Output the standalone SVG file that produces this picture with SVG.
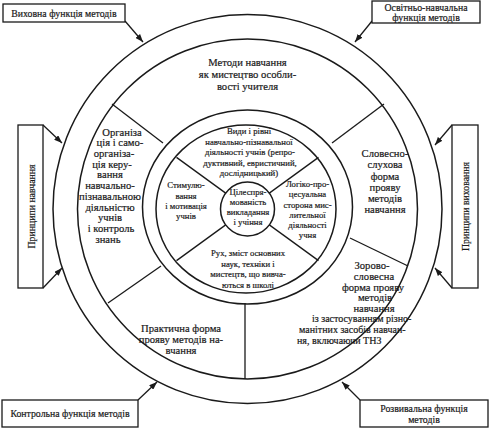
<svg xmlns="http://www.w3.org/2000/svg" width="500" height="428" viewBox="0 0 500 428">
<defs>
<style>
.c{fill:none;stroke:#1a1a1a;stroke-width:1.5}
.l{stroke:#1a1a1a;stroke-width:1.3;fill:none}
.b{fill:#fff;stroke:#1a1a1a;stroke-width:1.3}
.t{font-family:"Liberation Serif","DejaVu Serif",serif;fill:#1a1a1a;stroke:#1a1a1a;stroke-width:0.2;text-anchor:middle}
.o{font-size:10.6px}
.i{font-size:8.7px}
.bx{font-size:9.8px}
.s{font-size:10px;text-anchor:start}
</style>
<marker id="ah" viewBox="0 0 8 6" refX="8" refY="3" markerWidth="8" markerHeight="6" markerUnits="userSpaceOnUse" orient="auto">
<path d="M0,0 L8,3 L0,6 z" fill="#1a1a1a"/>
</marker>
</defs>
<rect width="500" height="428" fill="#fff"/>

<g id="rings">
<circle class="c" cx="247.5" cy="209" r="194.5"/>
<circle class="c" cx="247.5" cy="209" r="170"/>
<ellipse class="c" cx="247.5" cy="207" rx="105" ry="97"/>
<ellipse class="c" cx="246" cy="209" rx="90" ry="84"/>
<circle class="c" cx="247.5" cy="209" r="27"/>
</g>

<g id="dividers">
<line class="l" x1="225.7" y1="193.1" x2="176.5" y2="157.4"/>
<line class="l" x1="269.3" y1="193.1" x2="318.5" y2="157.4"/>
<line class="l" x1="225.7" y1="224.9" x2="176.5" y2="260.6"/>
<line class="l" x1="269.3" y1="224.9" x2="318.5" y2="260.6"/>
<line class="l" x1="163" y1="143" x2="112" y2="104"/>
<line class="l" x1="332" y1="143" x2="384" y2="104"/>
<line class="l" x1="350" y1="238" x2="408" y2="266"/>
<line class="l" x1="161" y1="266" x2="108" y2="303"/>
<line class="l" x1="245" y1="303" x2="245" y2="379"/>
</g>

<g id="connectors">
<line class="l" x1="125" y1="21" x2="143" y2="42" marker-end="url(#ah)"/>
<line class="l" x1="372" y1="21" x2="355" y2="42" marker-end="url(#ah)"/>
<line class="l" x1="43" y1="125" x2="62" y2="143" marker-end="url(#ah)"/>
<line class="l" x1="43" y1="288" x2="62" y2="268" marker-end="url(#ah)"/>
<line class="l" x1="452" y1="125" x2="435" y2="145" marker-end="url(#ah)"/>
<line class="l" x1="452" y1="288" x2="435" y2="268" marker-end="url(#ah)"/>
<line class="l" x1="138" y1="400" x2="157" y2="382" marker-end="url(#ah)"/>
<line class="l" x1="360" y1="400" x2="342" y2="382" marker-end="url(#ah)"/>
</g>

<g id="box-vykhovna">
<rect class="b" x="3" y="4" width="122" height="18"/>
<text class="t bx" x="64" y="16.5">Виховна функція методів</text>
</g>
<g id="box-osvitno">
<rect class="b" x="372" y="1" width="108" height="22"/>
<text class="t bx" x="426" y="10.5">Освітньо-навчальна</text>
<text class="t bx" x="426" y="20.5">функція методів</text>
</g>
<g id="box-pryntsypy-navchannia">
<rect class="b" x="18" y="125" width="25" height="163"/>
<text class="t bx" transform="translate(34.5,206.5) rotate(-90)">Принципи навчання</text>
</g>
<g id="box-pryntsypy-vykhovannia">
<rect class="b" x="452" y="125" width="26" height="163"/>
<text class="t bx" transform="translate(468.5,206.5) rotate(-90)">Принципи виховання</text>
</g>
<g id="box-kontrolna">
<rect class="b" x="2" y="400" width="136" height="27"/>
<text class="t bx" x="70" y="416.5">Контрольна функція методів</text>
</g>
<g id="box-rozvyvalna">
<rect class="b" x="360" y="400" width="128" height="27"/>
<text class="t bx" x="424" y="411.5">Розвивальна функція</text>
<text class="t bx" x="424" y="423">методів</text>
</g>

<g id="sector-top">
<text class="t o" x="247.5" y="65.5">Методи навчання</text>
<text class="t o" x="247.5" y="78">як мистецтво особли-</text>
<text class="t o" x="247.5" y="90">вості учителя</text>
</g>
<g id="sector-left">
<text class="t o" x="122" y="135.5">Організа</text>
<text class="t o" x="120" y="146">ція і само-</text>
<text class="t o" x="114" y="156.5">організа-</text>
<text class="t o" x="112" y="167.5">ція керу-</text>
<text class="t o" x="110" y="178">вання</text>
<text class="t o" x="110" y="188.5">навчально-</text>
<text class="t o" x="110" y="199.5">пізнавальною</text>
<text class="t o" x="110" y="210.5">діяльністю</text>
<text class="t o" x="110" y="221">учнів</text>
<text class="t o" x="111" y="231.5">і контроль</text>
<text class="t o" x="108" y="242.5">знань</text>
</g>
<g id="sector-right">
<text class="t o" x="385" y="157">Словесно-</text>
<text class="t o" x="385" y="168">слухова</text>
<text class="t o" x="385" y="179.5">форма</text>
<text class="t o" x="385" y="190.5">прояву</text>
<text class="t o" x="385" y="201.5">методів</text>
<text class="t o" x="385" y="212.5">навчання</text>
</g>
<g id="sector-bottom-left">
<text class="t o" x="181" y="331.5">Практична форма</text>
<text class="t o" x="181" y="343">прояву методів на-</text>
<text class="t o" x="181" y="354">вчання</text>
</g>
<g id="sector-bottom-right">
<text class="t o" x="372" y="268.5">Зорово-</text>
<text class="t o" x="374" y="279.5">словесна</text>
<text class="t o" x="373" y="290.5">форма прояву</text>
<text class="t o" x="375" y="301">методів</text>
<text class="t o" x="374" y="311.5">навчання</text>
<text class="t s" x="312" y="322">із застосуванням різно-</text>
<text class="t s" x="299" y="333">манітних засобів навчан-</text>
<text class="t s" x="297" y="343.5">ня, включаючи ТНЗ</text>
</g>

<g id="inner-top">
<text class="t i" x="249" y="134">Види і рівні</text>
<text class="t i" x="249" y="144.5">навчально-пізнавальної</text>
<text class="t i" x="250" y="155">діяльності учнів (репро-</text>
<text class="t i" x="250" y="165.5">дуктивний, евристичний,</text>
<text class="t i" x="249" y="175.5">дослідницький)</text>
</g>
<g id="inner-left">
<text class="t i" x="186" y="188">Стимулю-</text>
<text class="t i" x="186" y="198.5">вання</text>
<text class="t i" x="186" y="209">і мотивація</text>
<text class="t i" x="186" y="218.5">учнів</text>
</g>
<g id="inner-center">
<text class="t i" x="248" y="195">Цілеспря-</text>
<text class="t i" x="248" y="205">мованість</text>
<text class="t i" x="248" y="215">викладання</text>
<text class="t i" x="248" y="225">і учіння</text>
</g>
<g id="inner-right">
<text class="t i" x="307.5" y="187">Логіко-про-</text>
<text class="t i" x="307.5" y="197.3">цесуальна</text>
<text class="t i" x="307.5" y="207.5">сторона мис-</text>
<text class="t i" x="307.5" y="217.7">лительної</text>
<text class="t i" x="307.5" y="228">діяльності</text>
<text class="t i" x="307.5" y="238">учня</text>
</g>
<g id="inner-bottom">
<text class="t i" x="248" y="256">Рух, зміст основних</text>
<text class="t i" x="248" y="266.5">наук, техніки і</text>
<text class="t i" x="248" y="277">мистецтв, що вивча-</text>
<text class="t i" x="248" y="287.5">ються в школі</text>
</g>
</svg>
